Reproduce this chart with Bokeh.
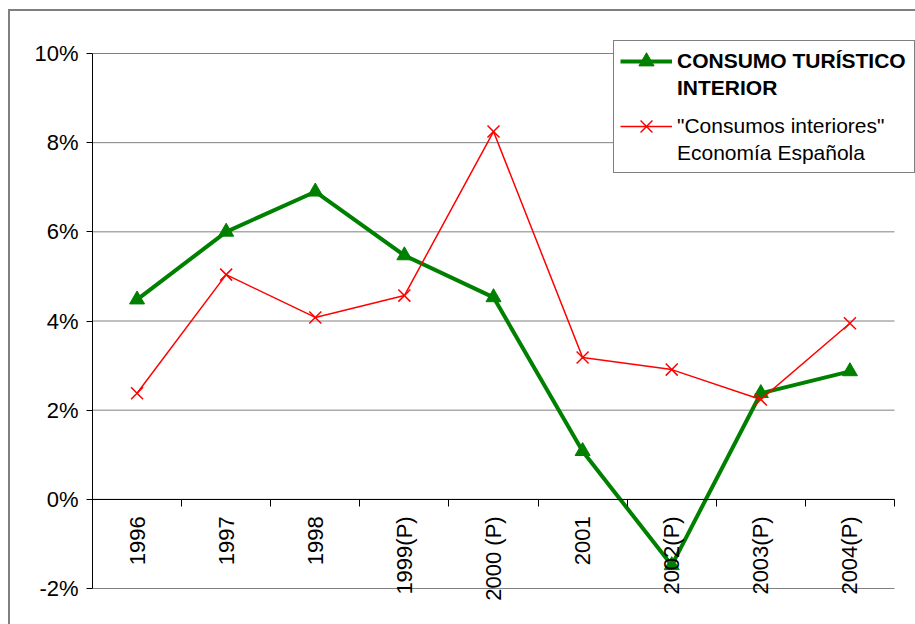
import math
from bokeh.plotting import figure
from bokeh.models import (ColumnDataSource, FixedTicker, PrintfTickFormatter, Legend,
                          LegendItem, Range1d)
from bokeh.embed import file_html
from bokeh.resources import INLINE

categories = ["1996", "1997", "1998", "1999(P)", "2000 (P)", "2001", "2002(P)", "2003(P)", "2004(P)"]
consumo_turistico = [4.48, 6.00, 6.90, 5.47, 4.53, 1.08, -1.48, 2.38, 2.87]
consumos_interiores = [2.38, 5.04, 4.08, 4.57, 8.25, 3.18, 2.91, 2.24, 3.95]
y_ticks = [-2, 0, 2, 4, 6, 8, 10]
series_a_lines = ["CONSUMO TURÍSTICO", "INTERIOR"]
series_b_lines = ["\"Consumos interiores\"", "Economía Española"]

FONT = "Liberation Sans"
x = list(range(1, len(categories) + 1))
x_lo, x_hi = 0.5, len(categories) + 0.5
y_lo, y_hi = min(y_ticks), max(y_ticks)

# the whole canvas is the plotting frame; the axes sit inside it
W, H = 915, 624
PL, PT, PR, PB = 92, 53, 894, 588   # pixel box of the plotting area
ppx = (PR - PL) / (x_hi - x_lo)
ppy = (PB - PT) / (y_hi - y_lo)
x_range = Range1d(x_lo - PL / ppx, x_hi + (W - PR) / ppx)
y_range = Range1d(y_lo - (H - PB) / ppy, y_hi + PT / ppy)

p = figure(width=W, height=H, output_backend="svg", toolbar_location=None,
           x_range=x_range, y_range=y_range,
           min_border_left=0, min_border_right=0, min_border_top=0, min_border_bottom=0)
p.outline_line_color = None
p.background_fill_color = "white"
p.border_fill_color = "white"
p.xgrid.visible = False
p.ygrid.visible = False

# horizontal gridlines across the plotting area only
p.segment(x0=[x_lo] * len(y_ticks), y0=y_ticks, x1=[x_hi] * len(y_ticks), y1=y_ticks,
          line_color="#808080", line_width=1, level="underlay")

# y axis
p.yaxis.fixed_location = x_lo
p.yaxis.bounds = (y_lo, y_hi)
p.yaxis.ticker = FixedTicker(ticks=y_ticks)
p.yaxis.formatter = PrintfTickFormatter(format="%d%%")
p.yaxis.major_tick_out = 6
p.yaxis.major_tick_in = 0
p.yaxis.minor_tick_out = 0
p.yaxis.minor_tick_in = 0
p.yaxis.axis_line_color = "black"
p.yaxis.major_tick_line_color = "black"
p.yaxis.major_label_text_font = FONT
p.yaxis.major_label_text_font_size = "22px"
p.yaxis.major_label_text_color = "black"
p.yaxis.major_label_standoff = 8

# x axis at y = 0
p.xaxis.fixed_location = 0
p.xaxis.bounds = (x_lo, x_hi)
p.xaxis.ticker = FixedTicker(ticks=x, minor_ticks=[i + 0.5 for i in range(0, len(categories) + 1)])
p.xaxis.major_label_overrides = {i: c for i, c in zip(x, categories)}
p.xaxis.major_tick_out = 0
p.xaxis.major_tick_in = 0
p.xaxis.minor_tick_out = 7
p.xaxis.minor_tick_in = 0
p.xaxis.minor_tick_line_color = "black"
p.xaxis.axis_line_color = "black"
p.xaxis.major_label_orientation = math.pi / 2
p.xaxis.major_label_text_font = FONT
p.xaxis.major_label_text_font_size = "22px"
p.xaxis.major_label_text_color = "black"
p.xaxis.major_label_standoff = 10

src = ColumnDataSource(dict(x=x, t=consumo_turistico, c=consumos_interiores))
g_line = p.line("x", "t", source=src, line_color="#008000", line_width=4)
g_mark = p.scatter("x", "t", source=src, marker="triangle", size=15,
                   fill_color="#008000", line_color="#008000")
r_line = p.line("x", "c", source=src, line_color="#FF0000", line_width=1.5)
r_mark = p.scatter("x", "c", source=src, marker="x", size=17,
                   line_color="#FF0000", line_width=1.5)
blank = p.line(x=[], y=[], line_alpha=0)   # invisible glyph for continuation lines / boxes


def one_item_legend(label, renderers, left, bottom, glyph_h, label_h, bold=False,
                    glyph_w=52, padding=5, standoff=5):
    lg = Legend(items=[LegendItem(label=label, renderers=renderers)],
                location=(left, H - bottom), orientation="vertical")
    lg.label_text_font = FONT
    lg.label_text_font_size = "21px"
    lg.label_text_color = "black"
    lg.label_text_font_style = "bold" if bold else "normal"
    lg.border_line_color = None
    lg.background_fill_alpha = 0
    lg.margin = 0
    lg.padding = padding
    lg.glyph_width = glyph_w
    lg.glyph_height = glyph_h
    lg.label_height = label_h
    lg.label_standoff = standoff
    return lg

# outer frame of the chart object
legD = one_item_legend(" ", [blank], 8, 13 + 760, 1, 760, glyph_w=1, padding=0, standoff=0)
legD.label_width = 1100
legD.border_line_color = "black"
legD.border_line_width = 2

# legend box
legC = one_item_legend(" ", [blank], 612.5, 173, 1, 131, glyph_w=1, padding=0, standoff=0)
legC.label_width = 299
legC.border_line_color = "black"
legC.border_line_width = 1.5
legC.background_fill_color = "white"
legC.background_fill_alpha = 1

legA1 = one_item_legend(series_a_lines[0], [g_line, g_mark], 620, 80, 38, 38, bold=True)
legA2 = one_item_legend(series_a_lines[1], [blank], 620, 100.5, 25, 25, bold=True)
legB1 = one_item_legend(series_b_lines[0], [r_line, r_mark], 620, 147, 42, 42)
legB2 = one_item_legend(series_b_lines[1], [blank], 620, 164.5, 23, 23)

for lg in (legD, legC, legA1, legA2, legB1, legB2):
    p.add_layout(lg, "center")

open("out.html", "w").write(file_html(p, INLINE))
